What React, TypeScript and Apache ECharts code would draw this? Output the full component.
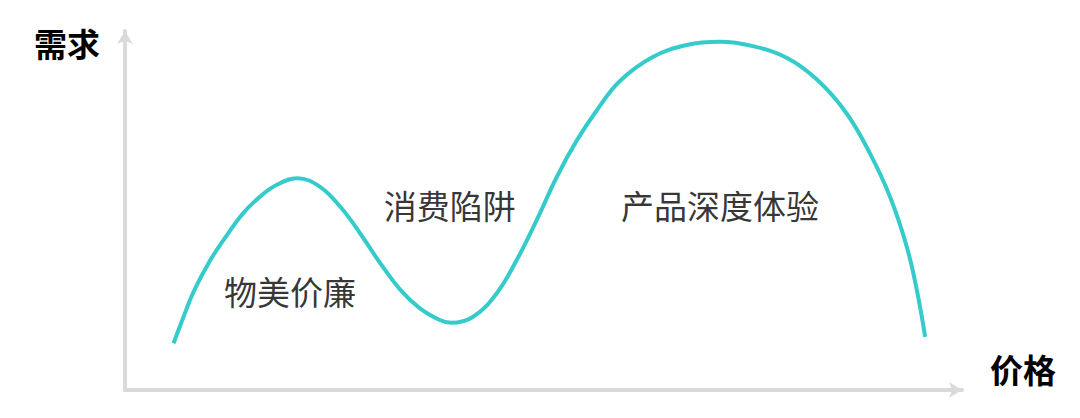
import React, { useEffect, useRef } from "react";
import * as echarts from "echarts";

// Curve: price (x) vs demand (y) (0–100 scales)
const priceValues = [5.8, 7.0, 8.2, 10.2, 12.2, 14.1, 16.1, 18.1, 20.6, 23.3, 25.7, 28.1, 30.5, 32.9, 35.2, 37.6, 39.0, 41.6, 44.4, 46.8, 49.2, 51.6, 54.0, 56.4, 59.1, 63.1, 67.1, 71.1, 75.0, 79.1, 82.7, 86.2, 89.0, 91.4, 93.4, 94.6, 95.6];
const demandValues = [13.0, 20.4, 27.4, 36.2, 43.2, 49.2, 53.8, 57.1, 59.0, 56.6, 51.1, 43.6, 35.3, 27.9, 22.8, 19.5, 18.7, 20.4, 26.9, 36.2, 47.4, 59.4, 69.6, 78.0, 86.0, 92.8, 96.1, 97.0, 95.8, 92.5, 86.4, 77.1, 65.9, 53.8, 39.9, 27.9, 14.8];

// Region annotations
const labelNames = ["物美价廉", "消费陷阱", "产品深度体验"];
const labelX = [19.7, 38.8, 71.1];
const labelY = [27.6, 51.5, 51.5];

const xAxisName = "价格";
const yAxisName = "需求";

export default function App() {
  const ref = useRef<HTMLDivElement>(null);
  useEffect(() => {
    if (!ref.current) return;
    const chart = echarts.init(ref.current, undefined, { renderer: "svg" });
    const font = "'Noto Sans CJK SC', 'Noto Sans', sans-serif";
    const axisLine = {
      show: true,
      symbol: ["none", "arrow"],
      symbolSize: [12, 13],
      lineStyle: { color: "#dadada", width: 4 },
    };
    chart.setOption({
      animation: false,
      backgroundColor: "#ffffff",
      grid: { left: 125, right: 118, top: 31, bottom: 28 },
      xAxis: {
        type: "value",
        min: 0,
        max: 100,
        name: xAxisName,
        nameLocation: "end",
        nameGap: 28,
        nameTextStyle: {
          fontFamily: font,
          fontSize: 33,
          fontWeight: "bold",
          color: "#000",
          align: "left",
          verticalAlign: "bottom",
          lineHeight: 34,
          padding: [0, 0, 4, 0],
        },
        axisLine,
        axisTick: { show: false },
        axisLabel: { show: false },
        splitLine: { show: false },
      },
      yAxis: {
        type: "value",
        min: 0,
        max: 100,
        name: yAxisName,
        nameLocation: "end",
        nameGap: -12,
        nameTextStyle: {
          fontFamily: font,
          fontSize: 33,
          fontWeight: "bold",
          color: "#000",
          align: "right",
          verticalAlign: "middle",
          lineHeight: 34,
          padding: [0, 25, 0, 0],
        },
        axisLine,
        axisTick: { show: false },
        axisLabel: { show: false },
        splitLine: { show: false },
      },
      series: [
        {
          type: "line",
          data: priceValues.map((p, i) => [p, demandValues[i]]),
          smooth: 0.4,
          showSymbol: false,
          lineStyle: { color: "#36CBCB", width: 4 },
          silent: true,
        },
        {
          type: "scatter",
          symbolSize: 0,
          data: labelNames.map((n, i) => ({ name: n, value: [labelX[i], labelY[i]] })),
          label: {
            show: true,
            position: "inside",
            formatter: (p: any) => p.name,
            fontFamily: font,
            fontSize: 33,
            color: "#000",
          },
          silent: true,
        },
      ],
    });
    return () => chart.dispose();
  }, []);
  return (
    <div
      ref={ref}
      style={{ position: "absolute", left: 0, top: 0, width: 1080, height: 418 }}
    />
  );
}
